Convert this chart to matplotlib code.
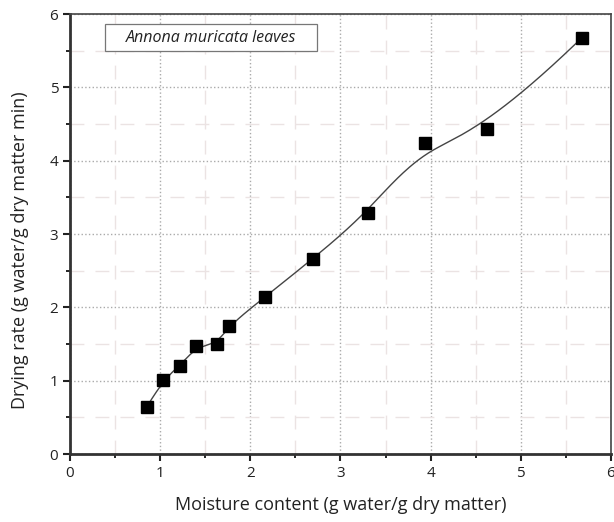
import numpy as np
import matplotlib.pyplot as plt
from matplotlib.patches import Rectangle
from matplotlib.ticker import MultipleLocator

moisture = [0.85, 1.03, 1.22, 1.40, 1.63, 1.76, 2.16, 2.69, 3.30, 3.94, 4.63, 5.68]
drying_rate = [0.64, 1.01, 1.20, 1.47, 1.50, 1.75, 2.14, 2.66, 3.29, 4.24, 4.43, 5.68]


def bspline(px, py, n=400):
    # clamped uniform cubic B-spline through the control points (Origin-like smoothing)
    pts = np.column_stack([px, py])
    k = 3
    m = len(pts)
    knots = np.concatenate([np.zeros(k), np.linspace(0, 1, m - k + 1), np.ones(k)])
    ts = np.linspace(0, 1, n)
    out = []
    for t in ts:
        if t >= 1.0:
            span = m - 1
        else:
            span = np.searchsorted(knots, t, side='right') - 1
        d = [pts[j + span - k].copy() for j in range(k + 1)]
        for r in range(1, k + 1):
            for j in range(k, r - 1, -1):
                i = j + span - k
                denom = knots[i + k + 1 - r] - knots[i]
                a = 0.0 if denom == 0 else (t - knots[i]) / denom
                d[j] = (1 - a) * d[j - 1] + a * d[j]
        out.append(d[k])
    out = np.array(out)
    return out[:, 0], out[:, 1]


plt.rcParams['font.family'] = ['Open Sans', 'DejaVu Sans']

fig = plt.figure(figsize=(6.14, 5.22), dpi=100)
ax = fig.add_axes([0.114, 0.130, 0.881, 0.843])

sx, sy = bspline(moisture, drying_rate)
ax.plot(sx, sy, '-', color='#444444', lw=1.0, zorder=3)
ax.plot(moisture, drying_rate, 's', color='black', markersize=8.5, zorder=4)

ax.set_xlim(0, 6)
ax.set_ylim(0, 6)
ax.xaxis.set_major_locator(MultipleLocator(1))
ax.xaxis.set_minor_locator(MultipleLocator(0.5))
ax.yaxis.set_major_locator(MultipleLocator(1))
ax.yaxis.set_minor_locator(MultipleLocator(0.5))

ax.grid(which='major', linestyle=':', color='#aaaaaa', lw=1.0)
ax.grid(which='minor', linestyle=(0, (10, 8)), color='#ebe3e3', lw=1.0)

ax.tick_params(which='major', direction='out', length=5, width=1.5, labelsize=11, colors='#222222')
ax.tick_params(which='minor', direction='out', length=3, width=1.2)

for side in ['left', 'bottom']:
    ax.spines[side].set_linewidth(2.0)
    ax.spines[side].set_color('#333333')
for side in ['top', 'right']:
    ax.spines[side].set_linewidth(1.2)
    ax.spines[side].set_color('#444444')

ax.set_xlabel('Moisture content (g water/g dry matter)', fontsize=13, color='#222222', labelpad=11)
ax.set_ylabel('Drying rate (g water/g dry matter min)', fontsize=13, color='#222222')
ax.yaxis.set_label_coords(-0.075, 0.464)

# label box
ax.add_patch(Rectangle((0.39, 5.5), 2.35, 0.36, fc='white', ec='#777777', lw=0.9, zorder=5))
ax.text(1.565, 5.68, 'Annona muricata leaves', style='italic', fontsize=11.5, color='#222222',
        va='center', ha='center', zorder=6)

fig.savefig('out.png', dpi=100)
